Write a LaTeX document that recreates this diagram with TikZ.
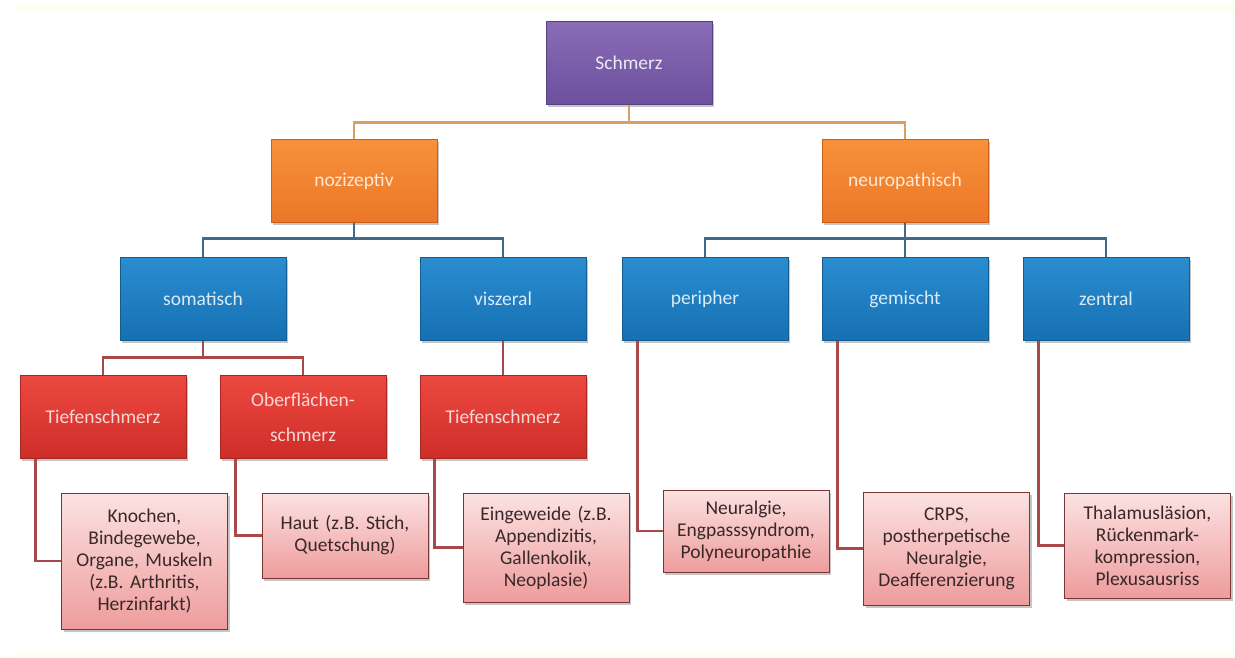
\documentclass[tikz,border=0pt]{standalone}
\usepackage{fontspec}
\setmainfont{Carlito}
\frenchspacing
\usetikzlibrary{shadows,calc}
\definecolor{purT}{HTML}{8A6CB6}
\definecolor{purB}{HTML}{6C509E}
\definecolor{purD}{HTML}{56407F}
\definecolor{orT}{HTML}{F7913A}
\definecolor{orB}{HTML}{EC7628}
\definecolor{orD}{HTML}{C8601C}
\definecolor{blT}{HTML}{2A8DD0}
\definecolor{blB}{HTML}{1670B2}
\definecolor{blD}{HTML}{135C92}
\definecolor{rdT}{HTML}{EC4A40}
\definecolor{rdB}{HTML}{CE2C28}
\definecolor{rdD}{HTML}{A82420}
\definecolor{lfT}{HTML}{FCE2E2}
\definecolor{lfB}{HTML}{EE9C9C}
\definecolor{lfD}{HTML}{7A3535}
\definecolor{lfTxt}{HTML}{3A2828}
\definecolor{cOr}{HTML}{D9A066}
\definecolor{cBl}{HTML}{3F6A8A}
\definecolor{cRd}{HTML}{A84848}
\tikzset{
  base/.style={rectangle, inner sep=0pt, minimum width=166pt, minimum height=83pt,
    line width=0.8pt, align=center,
    drop shadow={shadow xshift=2pt, shadow yshift=-2.5pt, opacity=0.45},
    font=\fontsize{19.5}{22}\selectfont},
  purbox/.style={base, draw=purD, top color=purT, bottom color=purB, text=white!85!purT},
  orbox/.style={base, draw=orD, top color=orT, bottom color=orB, text=white!80!orT},
  blbox/.style={base, draw=blD, top color=blT, bottom color=blB, text=white!82!blT},
  rdbox/.style={base, draw=rdD, top color=rdT, bottom color=rdB, text=white!78!rdT},
  leaf/.style={base, draw=lfD, top color=lfT, bottom color=lfB, text=lfTxt, text width=160pt, minimum width=166pt},
  cor/.style={draw=cOr, line width=2.8pt},
  cbl/.style={draw=cBl, line width=2.8pt},
  crd/.style={draw=cRd, line width=2.8pt},
}
\begin{document}
\begin{tikzpicture}[x=1pt,y=-1pt]
\useasboundingbox (0,0) rectangle (1235,657);
\fill[white] (0,0) rectangle (1235,657);
\fill[yellow!6] (16,5) rectangle (1235,12);
\fill[yellow!4] (16,650) rectangle (1235,657);

\node[purbox] (schmerz) at (629,63) {Schmerz};
\node[orbox] (noz) at (354,181) {nozizeptiv};
\node[orbox] (neuro) at (905,181) {neuropathisch};
\node[blbox] (som) at (203,299) {somatisch};
\node[blbox] (visz) at (503,299) {viszeral};
\node[blbox] (periph) at (705,299) {peripher};
\node[blbox] (gem) at (905,299) {gemischt};
\node[blbox] (zen) at (1106,299) {zentral};
\node[rdbox] (tief1) at (103,417) {Tiefenschmerz};
\node[rdbox, font=\fontsize{19.5}{35}\selectfont] (ober) at (303,417) {Oberflächen-\\schmerz};
\node[rdbox] (tief2) at (503,417) {Tiefenschmerz};

\node[leaf, minimum height=136pt] (l1) at (144.5,561) {Knochen,\\Bindegewebe,\\Organe, Muskeln\\(z.B. Arthritis,\\Herzinfarkt)};
\node[leaf, minimum height=85pt] (l2) at (345,535.5) {Haut (z.B. Stich,\\Quetschung)};
\node[leaf, minimum height=109pt] (l3) at (546,547.5) {Eingeweide (z.B.\\Appendizitis,\\Gallenkolik,\\Neoplasie)};
\node[leaf, minimum height=82pt] (l4) at (746,531) {Neuralgie,\\Engpasssyndrom,\\Polyneuropathie};
\node[leaf, minimum height=113pt] (l5) at (946.5,548.5) {CRPS,\\postherpetische\\Neuralgie,\\Deafferenzierung};
\node[leaf, minimum height=105pt] (l6) at (1147.5,545.5) {Thalamusläsion,\\Rückenmark-\\kompression,\\Plexusausriss};

% orange
\draw[cor] (schmerz.south) -- ++(0,18);
\draw[cor] (noz.north) -- ++(0,-17) -| (neuro.north);
% blue
\draw[cbl] (noz.south) -- ++(0,17);
\draw[cbl] (som.north) -- ++(0,-19) -| (visz.north);
\draw[cbl] (neuro.south) -- (gem.north);
\draw[cbl] (periph.north) -- ++(0,-19) -| (zen.north);
% red
\draw[crd] (som.south) -- ++(0,17);
\draw[crd] (tief1.north) -- ++(0,-18) -| (ober.north);
\draw[crd] (visz.south) -- (tief2.north);
% leaf connectors
\draw[crd] ([xshift=16pt]tief1.south west) |- (l1.west);
\draw[crd] ([xshift=16pt]ober.south west) |- (l2.west);
\draw[crd] ([xshift=15pt]tief2.south west) |- (l3.west);
\draw[crd] ([xshift=16pt]periph.south west) |- (l4.west);
\draw[crd] ([xshift=16pt]gem.south west) |- (l5.west);
\draw[crd] ([xshift=16pt]zen.south west) |- (l6.west);
\end{tikzpicture}
\end{document}
